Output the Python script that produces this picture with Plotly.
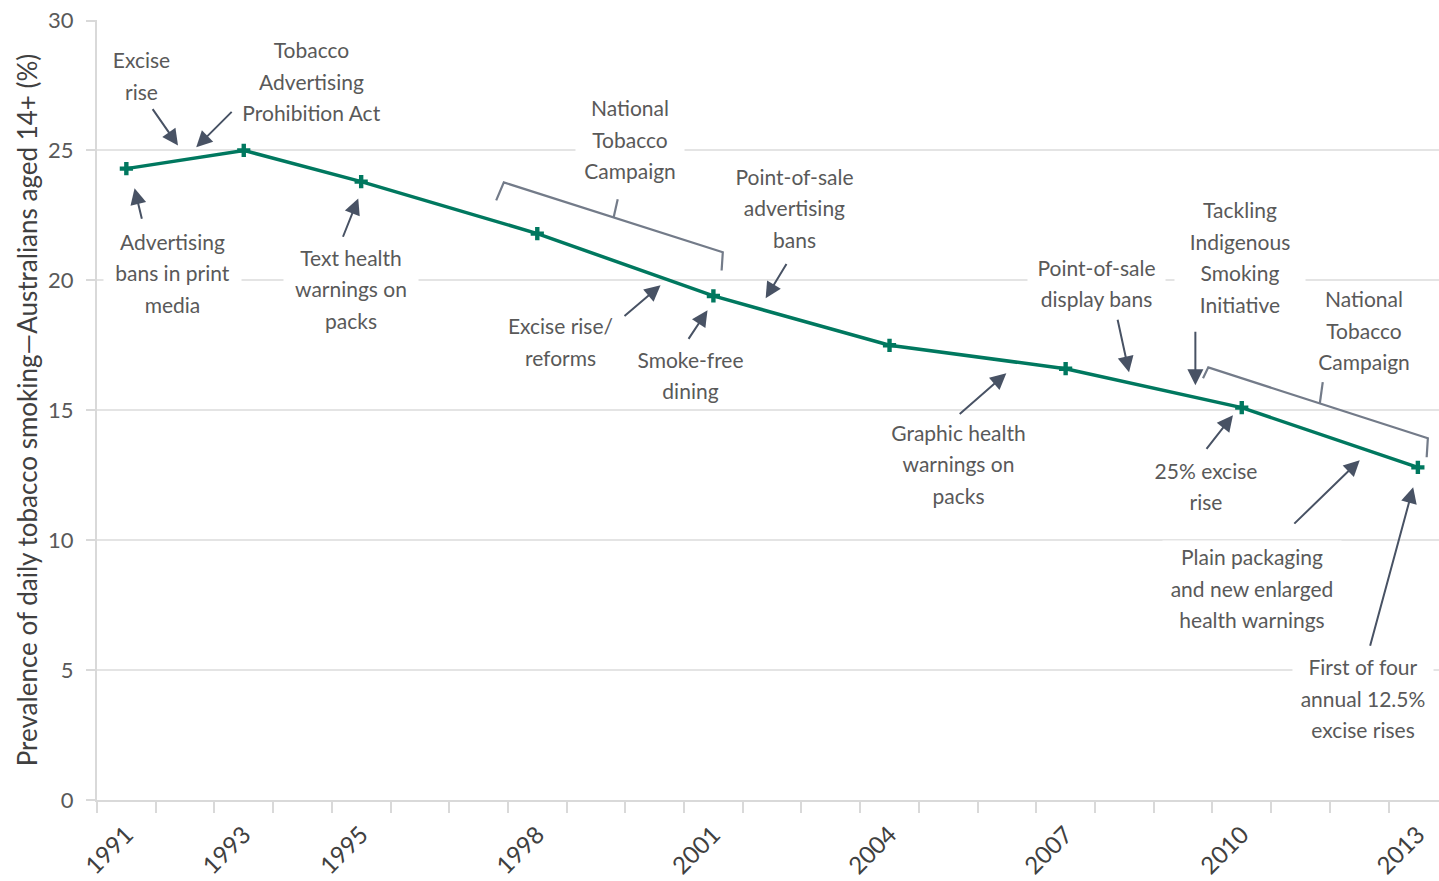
import plotly.graph_objects as go

# ---- data ----
years = [1991, 1993, 1995, 1998, 2001, 2004, 2007, 2010, 2013]
prevalence = [24.3, 25.0, 23.8, 21.8, 19.4, 17.5, 16.6, 15.1, 12.8]
year_labels = [str(y) for y in years]
y_ticks = [0, 5, 10, 15, 20, 25, 30]
y_title = "Prevalence of daily tobacco smoking\u2014Australians aged 14+ (%)"

# event labels: (lines, x-centre, y-centre, box width px)
labels = [
    (["Excise", "rise"], 1991.26, 27.87, 75),
    (["Tobacco", "Advertising", "Prohibition Act"], 1994.15, 27.65, 155),
    (["Advertising", "bans in print", "media"], 1991.79, 20.27, 137),
    (["Text health", "warnings on", "packs"], 1994.83, 19.65, 134),
    (["National", "Tobacco", "Campaign"], 1999.58, 25.42, 108),
    (["Point-of-sale", "advertising", "bans"], 2002.38, 22.77, 135),
    (["Excise rise/", "reforms"], 1998.40, 17.63, 125),
    (["Smoke-free", "dining"], 2000.61, 16.33, 125),
    (["Graphic health", "warnings on", "packs"], 2005.17, 12.92, 155),
    (["Point-of-sale", "display bans"], 2007.52, 19.88, 137),
    (["Tackling", "Indigenous", "Smoking", "Initiative"], 2009.97, 20.88, 130),
    (["National", "Tobacco", "Campaign"], 2012.08, 18.06, 108),
    (["25% excise", "rise"], 2009.39, 12.06, 118),
    (["Plain packaging", "and new enlarged", "health warnings"], 2010.18, 8.13, 178),
    (["First of four", "annual 12.5%", "excise rises"], 2012.07, 3.90, 140),
]

# arrows: (tail x, tail y, head x, head y)
arrows = [
    (1991.43, 26.65, 1991.88, 25.19),
    (1992.82, 26.54, 1992.19, 25.12),
    (1991.27, 22.31, 1991.14, 23.54),
    (1994.68, 21.62, 1994.95, 23.15),
    (1999.46, 18.58, 2000.10, 19.81),
    (2000.56, 17.69, 2000.90, 18.85),
    (2002.26, 20.69, 2001.89, 19.31),
    (2005.17, 14.81, 2005.99, 16.42),
    (2007.88, 18.54, 2008.08, 16.46),
    (2009.21, 18.08, 2009.21, 15.96),
    (2009.38, 13.46, 2009.85, 14.81),
    (2010.87, 10.58, 2012.01, 13.08),
    (2012.18, 5.88, 2012.92, 12.04),
]

# brackets: main polyline points and centre notch (base, top)
brackets = [
    ([(1997.30, 23.08), (1997.43, 23.77), (2001.16, 21.08), (2001.14, 20.38)],
     [(1999.30, 22.42), (1999.37, 23.12)]),
    ([(2009.34, 16.23), (2009.43, 16.65), (2013.17, 13.92), (2013.15, 13.19)],
     [(2011.33, 15.27), (2011.38, 16.08)]),
]

FONT = "Lato, 'Noto Sans', sans-serif"
TEXT_GREY = "#595959"
LINE_GREEN = "#00785F"
ARROW_COL = "#485264"
LINE_SP = 31.5

fig = go.Figure()
fig.add_trace(go.Scatter(
    x=years, y=prevalence, mode="lines+markers",
    line=dict(color=LINE_GREEN, width=3.5),
    marker=dict(symbol="cross", size=11, color=LINE_GREEN),
    showlegend=False, hoverinfo="skip",
))

annotations = []
for lines, xc, yc, w in labels:
    n = len(lines)
    for i, t in enumerate(lines):
        annotations.append(dict(
            x=xc, y=yc, xref="x", yref="y", text=t, showarrow=False,
            yshift=((n - 1) / 2 - i) * LINE_SP,
            width=w, height=LINE_SP, bgcolor="white", borderpad=0,
            font=dict(family=FONT, size=21, color=TEXT_GREY),
            align="center", valign="middle",
        ))

for tx, ty, hx, hy in arrows:
    annotations.append(dict(
        x=hx, y=hy, ax=tx, ay=ty, xref="x", yref="y", axref="x", ayref="y",
        text="", showarrow=True, arrowhead=2, arrowsize=1.6, arrowwidth=2,
        arrowcolor=ARROW_COL, standoff=0, startstandoff=0,
    ))

shapes = []
for pts, notch in brackets:
    path = "M " + " L ".join(f"{x},{y}" for x, y in pts)
    shapes.append(dict(type="path", path=path, xref="x", yref="y",
                       line=dict(color="#737B89", width=2.2)))
    path2 = "M " + " L ".join(f"{x},{y}" for x, y in notch)
    shapes.append(dict(type="path", path=path2, xref="x", yref="y",
                       line=dict(color="#737B89", width=2.2)))

minor_vals = [y + 0.5 for y in range(1990, 2014)]

fig.update_layout(
    width=1439, height=881,
    margin=dict(l=97, r=0, t=20, b=81),
    paper_bgcolor="white", plot_bgcolor="white",
    font=dict(family=FONT, color=TEXT_GREY),
    annotations=annotations, shapes=shapes,
    xaxis=dict(
        range=[1990.5, 2013.36], tickmode="array", tickvals=years,
        ticktext=year_labels, tickangle=-45, automargin=False,
        ticklabeloverflow="allow",
        ticks="outside", ticklen=9, tickcolor="rgba(0,0,0,0)",
        tickfont=dict(family=FONT, size=24, color="#404040"),
        showgrid=False, zeroline=False,
        showline=True, linecolor="#d9d9d9", linewidth=2,
        minor=dict(tickmode="array", tickvals=minor_vals, ticks="outside",
                   ticklen=11, tickwidth=2, tickcolor="#d9d9d9", showgrid=False),
    ),
    yaxis=dict(
        range=[0, 30.02], tickmode="array", tickvals=y_ticks,
        ticktext=[str(v) for v in y_ticks], automargin=False,
        ticklabeloverflow="allow",
        showgrid=True, gridcolor="#e4e4e4", gridwidth=2,
        ticks="outside", ticklen=9, tickwidth=2, tickcolor="#d9d9d9",
        ticklabelstandoff=8,
        showline=True, linecolor="#d9d9d9", linewidth=2, zeroline=False,
        tickfont=dict(family=FONT, size=22, color=TEXT_GREY),
        title=dict(text=y_title, standoff=3,
                   font=dict(family=FONT, size=26, color="#404040")),
    ),
)

fig.write_html(
    "out.html",
    config={"displayModeBar": False},
    post_script="document.body.style.margin='0';document.body.style.overflow='hidden';",
)
